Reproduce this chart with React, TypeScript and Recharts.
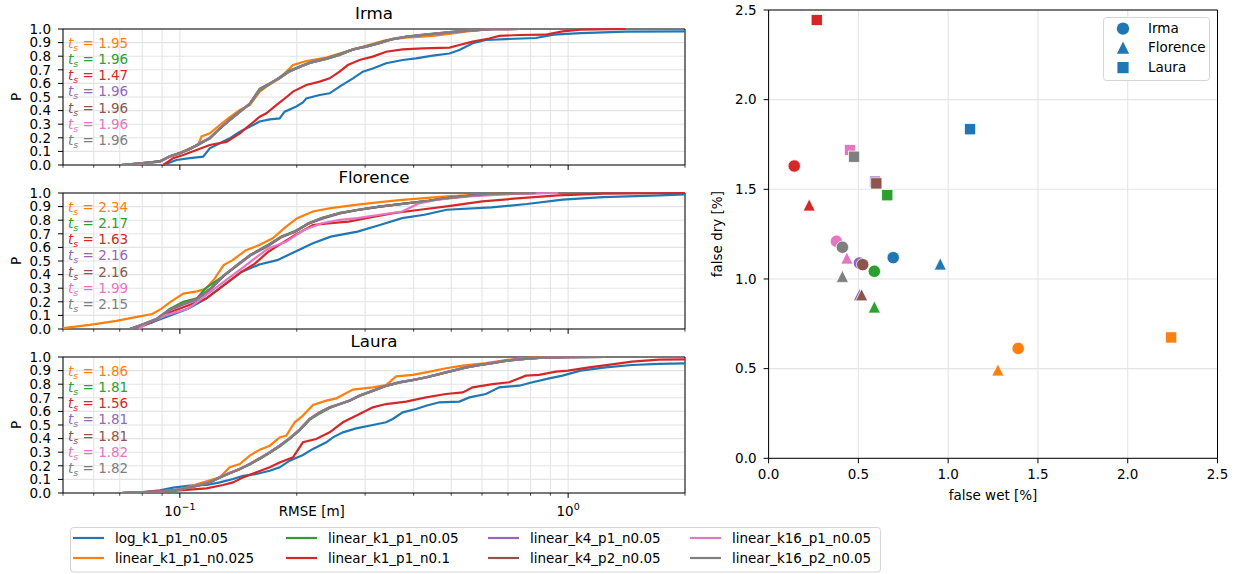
import React from 'react';
import {
  LineChart, Line, XAxis, YAxis, CartesianGrid, ReferenceArea, Legend,
  ScatterChart, Scatter,
} from 'recharts';

const FONT = "'DejaVu Sans', sans-serif";

const MODEL_NAMES = [
  'log_k1_p1_n0.05', 'linear_k1_p1_n0.025', 'linear_k1_p1_n0.05', 'linear_k1_p1_n0.1',
  'linear_k4_p1_n0.05', 'linear_k4_p2_n0.05', 'linear_k16_p1_n0.05', 'linear_k16_p2_n0.05',
];
const MODEL_COLORS = ['#1f77b4', '#ff7f0e', '#2ca02c', '#d62728', '#9467bd', '#8c564b', '#e377c2', '#7f7f7f'];
const STORMS = ['Irma', 'Florence', 'Laura'];

const X_TICKS = [0.05, 0.06, 0.07, 0.08, 0.09, 0.1, 0.2, 0.3, 0.4, 0.5, 0.6, 0.7, 0.8, 0.9, 1, 2];
const X_MAJOR = [0.1, 1];
const X_MAJOR_EXP = ['\u22121', '0'];
const P_TICKS = [0, 0.1, 0.2, 0.3, 0.4, 0.5, 0.6, 0.7, 0.8, 0.9, 1.0];
const S_TICKS = [0, 0.5, 1.0, 1.5, 2.0, 2.5];

// t_s annotations (models 2..8)
const TS_IRMA = [1.95, 1.96, 1.47, 1.96, 1.96, 1.96, 1.96];
const TS_FLORENCE = [2.34, 2.17, 1.63, 2.16, 2.16, 1.99, 2.15];
const TS_LAURA = [1.86, 1.81, 1.56, 1.81, 1.81, 1.82, 1.82];

// scatter: false wet / false dry [%] per model
const WET_IRMA = [0.694, 1.390, 0.589, 0.143, 0.506, 0.524, 0.378, 0.411];
const DRY_IRMA = [1.119, 0.613, 1.043, 1.630, 1.089, 1.080, 1.210, 1.177];
const WET_FLORENCE = [0.956, 1.277, 0.589, 0.226, 0.506, 0.518, 0.436, 0.411];
const DRY_FLORENCE = [1.084, 0.493, 0.844, 1.413, 0.912, 0.912, 1.117, 1.015];
const WET_LAURA = [1.122, 2.242, 0.661, 0.268, 0.593, 0.600, 0.453, 0.476];
const DRY_LAURA = [1.835, 0.674, 1.467, 2.444, 1.543, 1.533, 1.719, 1.682];

type Pt = [number, number];

// ---- Irma CDFs [RMSE, P]
const IRMA_LOG: Pt[] = [[0.0906, 0], [0.098, 0.037], [0.1061, 0.05], [0.1148, 0.061], [0.1194, 0.123], [0.1267, 0.16], [0.1344, 0.196], [0.1427, 0.245], [0.1513, 0.282], [0.1606, 0.32], [0.1704, 0.336], [0.1807, 0.343], [0.1862, 0.392], [0.1995, 0.43], [0.2075, 0.46], [0.2117, 0.49], [0.2291, 0.515], [0.2431, 0.527], [0.2578, 0.576], [0.2791, 0.637], [0.296, 0.686], [0.314, 0.71], [0.3398, 0.748], [0.375, 0.772], [0.4059, 0.784], [0.448, 0.804], [0.4946, 0.82], [0.5247, 0.846], [0.5677, 0.895], [0.6142, 0.919], [0.6914, 0.926], [0.8258, 0.934], [0.9179, 0.958], [1.077, 0.97], [1.405, 0.98], [2.0, 0.983]];
const IRMA_K1_N0025: Pt[] = [[0.0705, 0], [0.0789, 0.012], [0.0888, 0.025], [0.0943, 0.06], [0.1, 0.085], [0.1061, 0.123], [0.1115, 0.147], [0.1137, 0.21], [0.1194, 0.233], [0.1267, 0.294], [0.1331, 0.343], [0.1427, 0.404], [0.1513, 0.44], [0.1606, 0.54], [0.167, 0.576], [0.1807, 0.637], [0.1956, 0.735], [0.2117, 0.765], [0.2383, 0.79], [0.2578, 0.82], [0.2846, 0.857], [0.3398, 0.919], [0.3825, 0.936], [0.448, 0.949], [0.5044, 0.968], [0.5677, 0.988], [0.639, 0.998], [0.7, 1.0]];
const IRMA_K1_N005: Pt[] = [[0.0705, 0], [0.0789, 0.01], [0.0888, 0.028], [0.0943, 0.062], [0.1, 0.09], [0.1061, 0.12], [0.1126, 0.155], [0.1194, 0.2], [0.1267, 0.265], [0.1344, 0.335], [0.1427, 0.395], [0.1513, 0.445], [0.1606, 0.55], [0.1704, 0.595], [0.1807, 0.645], [0.1918, 0.695], [0.2035, 0.725], [0.2159, 0.755], [0.2383, 0.785], [0.2578, 0.815], [0.2791, 0.85], [0.3019, 0.872], [0.3266, 0.9], [0.3534, 0.928], [0.3825, 0.945], [0.4222, 0.958], [0.4661, 0.97], [0.5145, 0.982], [0.5677, 0.992], [0.639, 1.0]];
const IRMA_K1_N01: Pt[] = [[0.0906, 0], [0.0961, 0.05], [0.102, 0.074], [0.1104, 0.11], [0.1194, 0.147], [0.1318, 0.17], [0.1427, 0.233], [0.1513, 0.294], [0.1606, 0.355], [0.167, 0.38], [0.1772, 0.44], [0.1843, 0.478], [0.1956, 0.54], [0.2117, 0.588], [0.2291, 0.613], [0.2431, 0.637], [0.2578, 0.686], [0.2708, 0.735], [0.2902, 0.772], [0.314, 0.797], [0.3398, 0.833], [0.375, 0.85], [0.4222, 0.858], [0.4946, 0.863], [0.5247, 0.882], [0.5677, 0.907], [0.6264, 0.93], [0.6647, 0.949], [0.7482, 0.956], [0.8706, 0.958], [0.9678, 0.983], [1.077, 0.995], [1.405, 1.0]];
const IRMA_K4_P1: Pt[] = [[0.0705, 0], [0.0789, 0.012], [0.0888, 0.026], [0.0943, 0.064], [0.1, 0.088], [0.1061, 0.116], [0.1126, 0.158], [0.1194, 0.198], [0.1267, 0.268], [0.1344, 0.332], [0.1427, 0.392], [0.1513, 0.452], [0.1606, 0.555], [0.1704, 0.598], [0.1807, 0.642], [0.1918, 0.688], [0.2035, 0.722], [0.2159, 0.752], [0.2383, 0.782], [0.2578, 0.812], [0.2791, 0.848], [0.3019, 0.871], [0.3266, 0.897], [0.3534, 0.925], [0.3825, 0.942], [0.4222, 0.956], [0.4661, 0.969], [0.5145, 0.981], [0.5677, 0.99], [0.639, 0.998], [0.75, 1.0]];
const IRMA_K4_P2: Pt[] = [[0.0705, 0], [0.0789, 0.013], [0.0888, 0.027], [0.0943, 0.065], [0.1, 0.087], [0.1061, 0.118], [0.1126, 0.16], [0.1194, 0.195], [0.1267, 0.27], [0.1344, 0.33], [0.1427, 0.39], [0.1513, 0.452], [0.1606, 0.56], [0.1704, 0.6], [0.1807, 0.64], [0.1918, 0.69], [0.2035, 0.72], [0.2159, 0.75], [0.2383, 0.78], [0.2578, 0.81], [0.2791, 0.85], [0.3019, 0.87], [0.3266, 0.895], [0.3534, 0.926], [0.3825, 0.943], [0.4222, 0.956], [0.4661, 0.968], [0.5145, 0.98], [0.5677, 0.99], [0.639, 0.998], [0.75, 1.0]];
const IRMA_K16_P1: Pt[] = [[0.0705, 0], [0.0789, 0.01], [0.0888, 0.024], [0.0943, 0.063], [0.1, 0.085], [0.1061, 0.117], [0.1126, 0.16], [0.1194, 0.197], [0.1267, 0.272], [0.1344, 0.33], [0.1427, 0.388], [0.1513, 0.45], [0.1606, 0.558], [0.1704, 0.6], [0.1807, 0.64], [0.1918, 0.69], [0.2035, 0.72], [0.2159, 0.752], [0.2383, 0.78], [0.2578, 0.81], [0.2791, 0.85], [0.3019, 0.87], [0.3266, 0.895], [0.3534, 0.926], [0.3825, 0.943], [0.4222, 0.956], [0.4661, 0.968], [0.5145, 0.98], [0.5677, 0.99], [0.639, 0.998], [0.75, 1.0]];
const IRMA_K16_P2: Pt[] = [[0.0705, 0], [0.0789, 0.012], [0.0888, 0.025], [0.0943, 0.066], [0.1, 0.086], [0.1061, 0.118], [0.1126, 0.16], [0.1194, 0.196], [0.1267, 0.27], [0.1344, 0.33], [0.1427, 0.39], [0.1513, 0.45], [0.1606, 0.56], [0.1704, 0.6], [0.1807, 0.64], [0.1918, 0.69], [0.2035, 0.72], [0.2159, 0.75], [0.2383, 0.78], [0.2578, 0.81], [0.2791, 0.85], [0.3019, 0.87], [0.3266, 0.895], [0.3534, 0.926], [0.3825, 0.943], [0.4222, 0.956], [0.4661, 0.968], [0.5145, 0.98], [0.5677, 0.99], [0.639, 0.998], [0.75, 1.0]];

// ---- Florence CDFs
const FLORENCE_LOG: Pt[] = [[0.0743, 0], [0.0849, 0.05], [0.0944, 0.10], [0.1049, 0.148], [0.1166, 0.222], [0.1296, 0.321], [0.1441, 0.42], [0.1602, 0.474], [0.1781, 0.506], [0.198, 0.568], [0.2201, 0.63], [0.2447, 0.679], [0.2868, 0.716], [0.3274, 0.765], [0.3736, 0.815], [0.4265, 0.84], [0.4867, 0.877], [0.634, 0.894], [0.7833, 0.919], [0.9678, 0.951], [1.23, 0.97], [1.725, 0.983], [2.0, 0.99]];
const FLORENCE_K1_N0025: Pt[] = [[0.05, 0.007], [0.0586, 0.03], [0.0687, 0.06], [0.0764, 0.086], [0.0849, 0.11], [0.0895, 0.148], [0.0944, 0.198], [0.1021, 0.26], [0.1106, 0.277], [0.1166, 0.296], [0.1229, 0.37], [0.1296, 0.47], [0.1367, 0.506], [0.148, 0.58], [0.1602, 0.617], [0.1734, 0.667], [0.1878, 0.753], [0.2006, 0.815], [0.2201, 0.864], [0.2447, 0.889], [0.2868, 0.914], [0.3274, 0.933], [0.3736, 0.95], [0.4265, 0.963], [0.4867, 0.975], [0.634, 0.993], [0.8258, 1.0]];
const FLORENCE_K1_N005: Pt[] = [[0.0743, 0], [0.0805, 0.035], [0.0871, 0.07], [0.0944, 0.15], [0.1021, 0.2], [0.1106, 0.225], [0.1166, 0.3], [0.1296, 0.39], [0.1403, 0.47], [0.1519, 0.545], [0.1689, 0.62], [0.1829, 0.68], [0.198, 0.72], [0.2144, 0.775], [0.2321, 0.815], [0.258, 0.855], [0.2868, 0.875], [0.3274, 0.9], [0.3736, 0.92], [0.4379, 0.945], [0.4867, 0.963], [0.5704, 0.983], [0.7236, 1.0]];
const FLORENCE_K1_N01: Pt[] = [[0.0764, 0], [0.0849, 0.05], [0.0944, 0.123], [0.1049, 0.173], [0.1166, 0.222], [0.1296, 0.321], [0.1441, 0.42], [0.156, 0.481], [0.1689, 0.568], [0.1829, 0.63], [0.198, 0.691], [0.2201, 0.765], [0.2447, 0.778], [0.272, 0.79], [0.3024, 0.815], [0.3544, 0.852], [0.4153, 0.877], [0.4867, 0.901], [0.6014, 0.938], [0.7236, 0.958], [0.9425, 0.983], [1.23, 0.995], [2.0, 1.0]];
const FLORENCE_K4_P1: Pt[] = [[0.0764, 0], [0.0827, 0.04], [0.0895, 0.08], [0.0944, 0.14], [0.1021, 0.18], [0.1106, 0.215], [0.1197, 0.29], [0.1296, 0.39], [0.1403, 0.465], [0.1519, 0.54], [0.1689, 0.61], [0.1829, 0.675], [0.198, 0.715], [0.2144, 0.775], [0.2321, 0.81], [0.258, 0.85], [0.2868, 0.875], [0.3274, 0.9], [0.3736, 0.92], [0.4379, 0.943], [0.4867, 0.962], [0.5704, 0.982], [0.6684, 0.993], [0.8706, 1.0]];
const FLORENCE_K4_P2: Pt[] = [[0.0743, 0], [0.0805, 0.035], [0.0871, 0.075], [0.0944, 0.145], [0.1021, 0.185], [0.1106, 0.225], [0.1197, 0.295], [0.1296, 0.39], [0.1403, 0.47], [0.1519, 0.545], [0.1689, 0.615], [0.1829, 0.68], [0.198, 0.715], [0.2144, 0.775], [0.2321, 0.815], [0.258, 0.85], [0.2868, 0.875], [0.3274, 0.9], [0.3736, 0.92], [0.4379, 0.943], [0.4867, 0.962], [0.5704, 0.982], [0.634, 0.993], [0.8258, 1.0]];
const FLORENCE_K16_P1: Pt[] = [[0.0784, 0], [0.0827, 0.05], [0.0919, 0.10], [0.1049, 0.148], [0.1136, 0.222], [0.1229, 0.296], [0.1331, 0.37], [0.1441, 0.444], [0.156, 0.519], [0.1689, 0.593], [0.1878, 0.642], [0.2088, 0.728], [0.2321, 0.778], [0.258, 0.802], [0.2868, 0.815], [0.3274, 0.84], [0.3736, 0.864], [0.4153, 0.926], [0.4617, 0.951], [0.5555, 0.975], [0.7236, 0.993], [0.9425, 1.0]];
const FLORENCE_K16_P2: Pt[] = [[0.0743, 0], [0.0805, 0.037], [0.0871, 0.074], [0.0944, 0.148], [0.1021, 0.185], [0.1106, 0.222], [0.1197, 0.296], [0.1296, 0.395], [0.1403, 0.469], [0.1519, 0.543], [0.1689, 0.617], [0.1829, 0.679], [0.198, 0.716], [0.2144, 0.778], [0.2321, 0.815], [0.258, 0.852], [0.2868, 0.877], [0.3274, 0.901], [0.3736, 0.919], [0.4379, 0.943], [0.4867, 0.963], [0.5704, 0.983], [0.634, 0.993], [0.8258, 1.0]];

// ---- Laura CDFs
const LAURA_LOG: Pt[] = [[0.0705, 0], [0.0789, 0.005], [0.0888, 0.02], [0.0961, 0.039], [0.1061, 0.054], [0.1171, 0.059], [0.1267, 0.078], [0.1371, 0.103], [0.1455, 0.127], [0.1575, 0.14], [0.1704, 0.164], [0.1807, 0.189], [0.1918, 0.238], [0.2075, 0.279], [0.2202, 0.324], [0.2383, 0.373], [0.2479, 0.409], [0.263, 0.446], [0.2846, 0.475], [0.314, 0.5], [0.3398, 0.52], [0.3534, 0.544], [0.375, 0.593], [0.4059, 0.618], [0.4307, 0.642], [0.4661, 0.667], [0.5247, 0.672], [0.5567, 0.703], [0.6142, 0.728], [0.6647, 0.777], [0.7482, 0.789], [0.8098, 0.814], [0.8937, 0.843], [0.9672, 0.863], [1.0757, 0.9], [1.25, 0.924], [1.46, 0.941], [1.714, 0.949], [2.0, 0.953]];
const LAURA_K1_N0025: Pt[] = [[0.0705, 0], [0.0789, 0.005], [0.0888, 0.012], [0.1, 0.025], [0.1126, 0.071], [0.1267, 0.115], [0.1344, 0.189], [0.1427, 0.213], [0.1513, 0.275], [0.1606, 0.319], [0.1704, 0.348], [0.1807, 0.409], [0.188, 0.422], [0.1976, 0.52], [0.2075, 0.569], [0.2202, 0.647], [0.2383, 0.679], [0.2529, 0.696], [0.2791, 0.76], [0.314, 0.777], [0.3398, 0.794], [0.3605, 0.858], [0.3978, 0.868], [0.4307, 0.887], [0.4849, 0.917], [0.5352, 0.936], [0.6142, 0.956], [0.6914, 0.978], [0.7632, 0.99], [0.8422, 0.998], [1.0, 1.0]];
const LAURA_K1_N005: Pt[] = [[0.0705, 0], [0.0789, 0.005], [0.0888, 0.01], [0.1, 0.025], [0.1061, 0.04], [0.1126, 0.057], [0.1194, 0.08], [0.1267, 0.112], [0.1344, 0.145], [0.1427, 0.178], [0.1513, 0.21], [0.1606, 0.25], [0.1704, 0.295], [0.1807, 0.342], [0.1918, 0.398], [0.2035, 0.46], [0.2159, 0.538], [0.2291, 0.585], [0.2431, 0.625], [0.2578, 0.652], [0.2736, 0.678], [0.2902, 0.714], [0.314, 0.75], [0.3398, 0.787], [0.3676, 0.812], [0.3978, 0.83], [0.4307, 0.85], [0.4661, 0.874], [0.5044, 0.898], [0.5458, 0.922], [0.5906, 0.94], [0.639, 0.955], [0.6914, 0.972], [0.7632, 0.985], [0.8422, 0.993], [1.0, 0.998], [1.25, 1.0]];
const LAURA_K1_N01: Pt[] = [[0.0705, 0], [0.0789, 0.005], [0.1, 0.02], [0.1171, 0.034], [0.1292, 0.059], [0.1371, 0.078], [0.1455, 0.115], [0.1575, 0.152], [0.1704, 0.189], [0.1807, 0.225], [0.1956, 0.262], [0.2075, 0.373], [0.2245, 0.397], [0.2431, 0.446], [0.263, 0.52], [0.2902, 0.581], [0.314, 0.63], [0.3398, 0.654], [0.3825, 0.672], [0.4307, 0.703], [0.4849, 0.728], [0.5352, 0.74], [0.5677, 0.777], [0.639, 0.801], [0.7052, 0.814], [0.7786, 0.863], [0.8422, 0.868], [0.9297, 0.892], [1.0, 0.9], [1.132, 0.924], [1.326, 0.949], [1.46, 0.966], [1.714, 0.98], [2.0, 0.982]];
const LAURA_K4_P1: Pt[] = [[0.0705, 0], [0.0789, 0.005], [0.0888, 0.011], [0.1, 0.026], [0.1061, 0.043], [0.1126, 0.06], [0.1194, 0.079], [0.1267, 0.116], [0.1344, 0.148], [0.1427, 0.177], [0.1513, 0.214], [0.1606, 0.256], [0.1704, 0.3], [0.1807, 0.349], [0.1918, 0.403], [0.2035, 0.467], [0.2159, 0.545], [0.2291, 0.594], [0.2431, 0.631], [0.2578, 0.655], [0.2736, 0.68], [0.2902, 0.717], [0.314, 0.753], [0.3398, 0.79], [0.3676, 0.815], [0.3978, 0.832], [0.4307, 0.851], [0.4661, 0.876], [0.5044, 0.901], [0.5458, 0.925], [0.5906, 0.942], [0.639, 0.957], [0.6914, 0.974], [0.7632, 0.986], [0.8422, 0.993], [1.0, 0.998], [1.25, 1.0]];
const LAURA_K4_P2: Pt[] = [[0.0705, 0], [0.0789, 0.005], [0.0888, 0.01], [0.1, 0.024], [0.1061, 0.041], [0.1126, 0.058], [0.1194, 0.077], [0.1267, 0.114], [0.1344, 0.146], [0.1427, 0.175], [0.1513, 0.212], [0.1606, 0.254], [0.1704, 0.298], [0.1807, 0.347], [0.1918, 0.401], [0.2035, 0.465], [0.2159, 0.543], [0.2291, 0.592], [0.2431, 0.629], [0.2578, 0.653], [0.2736, 0.678], [0.2902, 0.715], [0.314, 0.751], [0.3398, 0.788], [0.3676, 0.813], [0.3978, 0.83], [0.4307, 0.849], [0.4661, 0.874], [0.5044, 0.899], [0.5458, 0.923], [0.5906, 0.94], [0.639, 0.955], [0.6914, 0.972], [0.7632, 0.985], [0.8422, 0.993], [1.0, 0.998], [1.25, 1.0]];
const LAURA_K16_P1: Pt[] = [[0.0705, 0], [0.0789, 0.005], [0.0888, 0.01], [0.1, 0.025], [0.1061, 0.042], [0.1126, 0.06], [0.1194, 0.078], [0.1267, 0.115], [0.1344, 0.147], [0.1427, 0.177], [0.1513, 0.214], [0.1606, 0.255], [0.1704, 0.3], [0.1807, 0.348], [0.1918, 0.403], [0.2035, 0.466], [0.2159, 0.544], [0.2291, 0.593], [0.2431, 0.63], [0.2578, 0.655], [0.2736, 0.679], [0.2902, 0.716], [0.314, 0.752], [0.3398, 0.789], [0.3676, 0.814], [0.3978, 0.831], [0.4307, 0.85], [0.4661, 0.875], [0.5044, 0.9], [0.5458, 0.924], [0.5906, 0.941], [0.639, 0.956], [0.6914, 0.973], [0.7632, 0.985], [0.8422, 0.993], [1.0, 0.998], [1.25, 1.0]];
const LAURA_K16_P2: Pt[] = [[0.0705, 0], [0.0789, 0.005], [0.0888, 0.01], [0.1, 0.025], [0.1061, 0.042], [0.1126, 0.059], [0.1194, 0.078], [0.1267, 0.115], [0.1344, 0.147], [0.1427, 0.176], [0.1513, 0.213], [0.1606, 0.255], [0.1704, 0.299], [0.1807, 0.348], [0.1918, 0.402], [0.2035, 0.466], [0.2159, 0.544], [0.2291, 0.593], [0.2431, 0.63], [0.2578, 0.654], [0.2736, 0.679], [0.2902, 0.716], [0.314, 0.752], [0.3398, 0.789], [0.3676, 0.814], [0.3978, 0.831], [0.4307, 0.85], [0.4661, 0.875], [0.5044, 0.9], [0.5458, 0.924], [0.5906, 0.941], [0.639, 0.956], [0.6914, 0.973], [0.7632, 0.985], [0.8422, 0.993], [1.0, 0.998], [1.25, 1.0]];

const IRMA_SERIES = [IRMA_LOG, IRMA_K1_N0025, IRMA_K1_N005, IRMA_K1_N01, IRMA_K4_P1, IRMA_K4_P2, IRMA_K16_P1, IRMA_K16_P2];
const FLORENCE_SERIES = [FLORENCE_LOG, FLORENCE_K1_N0025, FLORENCE_K1_N005, FLORENCE_K1_N01, FLORENCE_K4_P1, FLORENCE_K4_P2, FLORENCE_K16_P1, FLORENCE_K16_P2];
const LAURA_SERIES = [LAURA_LOG, LAURA_K1_N0025, LAURA_K1_N005, LAURA_K1_N01, LAURA_K4_P1, LAURA_K4_P2, LAURA_K16_P1, LAURA_K16_P2];

const GRID = '#e4e4e4';
const FS = 13.5;

function LogTick(props: any) {
  const { x, y, payload, showLabel } = props;
  const v = payload.value;
  const mi = X_MAJOR.indexOf(v);
  const major = mi >= 0;
  return (
    <g>
      <line x1={x} x2={x} y1={y} y2={y + (major ? 4.9 : 2.8)} stroke="#000" strokeWidth={major ? 1 : 0.7} />
      {showLabel && major ? (
        <text x={x} y={y + 23} textAnchor="middle" fontSize={FS} fill="#000">
          10<tspan dy={-6.5} fontSize={9.5}>{X_MAJOR_EXP[mi]}</tspan>
        </text>
      ) : null}
    </g>
  );
}

function PanelDecor(props: any) {
  const { viewBox, title, ts, showXLabel } = props;
  const { x, y, width, height } = viewBox;
  return (
    <g>
      <text x={x + width / 2} y={y - 10} textAnchor="middle" fontSize={16.7} fill="#000">{title}</text>
      <text transform={`translate(${x - 47},${y + height / 2}) rotate(-90)`} textAnchor="middle" dy="0.36em" fontSize={FS} fill="#000">P</text>
      {ts.map((v: number, i: number) => (
        <text key={i} x={x + 5} y={y + 18.5 + i * 16.3} fontSize={FS} fill={MODEL_COLORS[i + 1]}>
          <tspan fontStyle="italic">t</tspan>
          <tspan fontStyle="italic" fontSize={9.5} dy={3}>s</tspan>
          <tspan dy={-3}>{` = ${v.toFixed(2)}`}</tspan>
        </text>
      ))}
      {showXLabel ? (
        <text x={x + width * 0.4} y={y + height + 23} textAnchor="middle" fontSize={FS} fill="#000">RMSE [m]</text>
      ) : null}
    </g>
  );
}

function ModelLegend() {
  const colX = [3, 216, 418, 620];
  const rowY = [11, 31];
  return (
    <svg width={811} height={46} style={{ display: 'block', fontFamily: FONT }}>
      <rect x={0.5} y={0.5} width={810} height={44.5} rx={3} fill="#fff" stroke="#d4d4d4" strokeWidth={1} />
      {MODEL_NAMES.map((m, i) => {
        const c = Math.floor(i / 2);
        const r = i % 2;
        const x = colX[c];
        const y = rowY[r];
        return (
          <g key={m}>
            <line x1={x} x2={x + 31} y1={y} y2={y} stroke={MODEL_COLORS[i]} strokeWidth={2.2} />
            <text x={x + 42} y={y + 4.8} fontSize={FS} fill="#000">{m}</text>
          </g>
        );
      })}
    </svg>
  );
}

function CdfPanel(props: { top: number; height: number; title: string; series: Pt[][]; ts: number[]; showX: boolean; legend?: boolean }) {
  const { top, height, title, series, ts, showX, legend } = props;
  return (
    <div style={{ position: 'absolute', left: 0, top, width: 700, height }}>
      <LineChart width={700} height={height} margin={{ top: 29, right: 15, bottom: height - 29 - 136 - 20, left: 0 }}>
        <CartesianGrid stroke={GRID} strokeWidth={1.1} />
        <XAxis
          dataKey="x" type="number" scale="log" domain={[0.05, 2]} allowDataOverflow
          ticks={X_TICKS} interval={0} height={20} axisLine={false} tickLine={false}
          tickSize={0} tickMargin={0}
          tick={(p: any) => <LogTick {...p} showLabel={showX} />}
        />
        <YAxis
          type="number" domain={[0, 1]} ticks={P_TICKS} interval={0} width={63}
          axisLine={false} tickLine={{ stroke: '#000' }} tickSize={5} tickMargin={7}
          tickFormatter={(v: number) => v.toFixed(1)}
          tick={{ fill: '#000', fontSize: FS, fontFamily: FONT }}
        />
        {series.map((s, i) => (
          <Line
            key={MODEL_NAMES[i]} name={MODEL_NAMES[i]}
            data={s.map(([x, p]) => ({ x, p }))} dataKey="p"
            stroke={MODEL_COLORS[i]} strokeWidth={2.2} dot={false} activeDot={false}
            type="linear" isAnimationActive={false}
          />
        ))}
        <ReferenceArea
          x1={0.05} x2={2} y1={0} y2={1} fill="none" fillOpacity={0} stroke="#000" strokeWidth={1}
          label={(p: any) => <PanelDecor viewBox={p.viewBox} title={title} ts={ts} showXLabel={showX} />}
        />
        {legend ? (
          <Legend
            layout="horizontal" verticalAlign="middle" align="center"
            wrapperStyle={{ left: 70, top: 527.3 - top, width: 811, height: 46 }}
            content={() => <ModelLegend />}
          />
        ) : null}
      </LineChart>
    </div>
  );
}

function Marker(props: { cx: number; cy: number; fill: string; kind: string; stroke?: string }) {
  const { cx, cy, fill, kind } = props;
  const stroke = props.stroke ?? '#fff';
  if (kind === 'Irma') return <circle cx={cx} cy={cy} r={6.2} fill={fill} stroke={stroke} strokeWidth={0.75} />;
  if (kind === 'Florence') {
    const h = 6.1;
    return <polygon points={`${cx},${cy - h} ${cx - h},${cy + h} ${cx + h},${cy + h}`} fill={fill} stroke={stroke} strokeWidth={0.75} />;
  }
  const s = 5.6;
  return <rect x={cx - s} y={cy - s} width={2 * s} height={2 * s} fill={fill} stroke={stroke} strokeWidth={0.75} />;
}

function StormLegend() {
  const rows = [11.6, 30.6, 50.6];
  return (
    <svg width={107} height={64} style={{ display: 'block', fontFamily: FONT }}>
      <rect x={0.5} y={0.5} width={106} height={63} rx={3} fill="#fff" stroke="#d4d4d4" strokeWidth={1} />
      {STORMS.map((s, i) => (
        <g key={s}>
          <Marker cx={20} cy={rows[i]} fill={MODEL_COLORS[0]} kind={s} stroke="none" />
          <text x={45} y={rows[i] + 4.8} fontSize={FS} fill="#000">{s}</text>
        </g>
      ))}
    </svg>
  );
}

function ScatterDecor(props: any) {
  const { x, y, width, height } = props.viewBox;
  return (
    <g>
      <text x={x + width / 2} y={y + height + 42} textAnchor="middle" fontSize={FS} fill="#000">false wet [%]</text>
      <text transform={`translate(${x - 51.6},${y + height / 2}) rotate(-90)`} textAnchor="middle" dy="0.36em" fontSize={FS} fill="#000">false dry [%]</text>
    </g>
  );
}

const SCATTER_DATA = MODEL_NAMES.map((m, i) => [
  { wet: WET_IRMA[i], dry: DRY_IRMA[i], storm: STORMS[0] },
  { wet: WET_FLORENCE[i], dry: DRY_FLORENCE[i], storm: STORMS[1] },
  { wet: WET_LAURA[i], dry: DRY_LAURA[i], storm: STORMS[2] },
]);

export default function App() {
  return (
    <div style={{ position: 'absolute', left: 0, top: 0, width: 1238, height: 574, background: '#fff', fontFamily: FONT, overflow: 'hidden' }}>
      <CdfPanel top={0} height={185} title="Irma" series={IRMA_SERIES} ts={TS_IRMA} showX={false} />
      <CdfPanel top={164} height={185} title="Florence" series={FLORENCE_SERIES} ts={TS_FLORENCE} showX={false} />
      <CdfPanel top={328} height={195} title="Laura" series={LAURA_SERIES} ts={TS_LAURA} showX={true} legend />
      <div style={{ position: 'absolute', left: 700, top: 0, width: 538, height: 520 }}>
        <ScatterChart width={538} height={520} margin={{ top: 10, right: 20.5, bottom: 11.7, left: 0 }}>
          <CartesianGrid stroke={GRID} strokeWidth={1.1} />
          <XAxis
            type="number" dataKey="wet" domain={[0, 2.5]} ticks={S_TICKS} interval={0} height={50}
            axisLine={false} tickLine={{ stroke: '#000' }} tickSize={5} tickMargin={6}
            tickFormatter={(v: number) => v.toFixed(1)}
            tick={{ fill: '#000', fontSize: FS, fontFamily: FONT }}
          />
          <YAxis
            type="number" dataKey="dry" domain={[0, 2.5]} ticks={S_TICKS} interval={0} width={68.6}
            axisLine={false} tickLine={{ stroke: '#000' }} tickSize={5} tickMargin={7}
            tickFormatter={(v: number) => v.toFixed(1)}
            tick={{ fill: '#000', fontSize: FS, fontFamily: FONT }}
          />
          {MODEL_NAMES.map((m, i) => (
            <Scatter
              key={m} name={m} data={SCATTER_DATA[i]} fill={MODEL_COLORS[i]} isAnimationActive={false}
              shape={(p: any) => <Marker cx={p.cx} cy={p.cy} fill={MODEL_COLORS[i]} kind={p.payload.storm} />}
            />
          ))}
          <ReferenceArea
            x1={0} x2={2.5} y1={0} y2={2.5} fill="none" fillOpacity={0} stroke="#000" strokeWidth={1}
            label={(p: any) => <ScatterDecor viewBox={p.viewBox} />}
          />
          <Legend
            layout="horizontal" verticalAlign="middle" align="center"
            wrapperStyle={{ left: 403, top: 16.7, width: 107, height: 64 }}
            content={() => <StormLegend />}
          />
        </ScatterChart>
      </div>
    </div>
  );
}
